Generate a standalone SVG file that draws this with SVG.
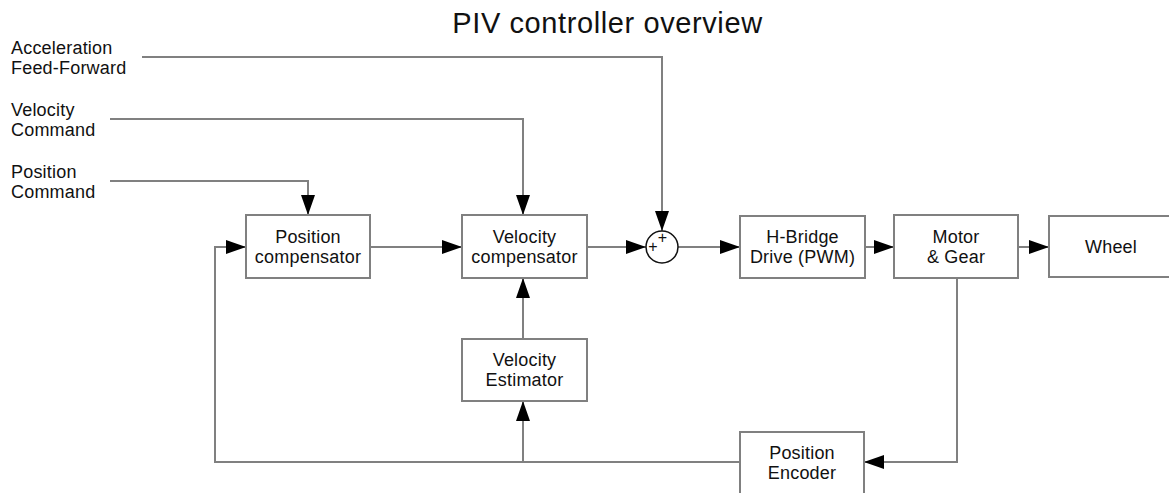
<svg xmlns="http://www.w3.org/2000/svg" width="1169" height="493" viewBox="0 0 1169 493">
<style>
.box{fill:#fff;stroke:#808080;stroke-width:2}
.lbl{font-family:"Liberation Sans",Arial,sans-serif;font-size:18px;fill:#111;letter-spacing:0.2px}
.c{text-anchor:middle}
.ln{fill:none;stroke:#808080;stroke-width:2}
.title{font-family:"Liberation Sans",Arial,sans-serif;font-size:29px;fill:#111;text-anchor:middle;letter-spacing:0.6px}
.plus{font-family:"Liberation Sans",Arial,sans-serif;font-size:16px;fill:#111;text-anchor:middle}
</style>
<defs>
<marker id="ah" markerUnits="userSpaceOnUse" markerWidth="20" markerHeight="14" refX="20" refY="7" orient="auto">
<path d="M0,0 L20,7 L0,14 z" fill="#000"/>
</marker>
</defs>
<rect width="1169" height="493" fill="#fff"/>
<text class="title" x="607.5" y="33">PIV controller overview</text>

<g id="inputs">
<text class="lbl" x="11" y="54">Acceleration</text>
<text class="lbl" x="11" y="74">Feed-Forward</text>
<text class="lbl" x="11" y="116">Velocity</text>
<text class="lbl" x="11" y="136">Command</text>
<text class="lbl" x="11" y="178">Position</text>
<text class="lbl" x="11" y="198">Command</text>
</g>

<g id="connectors">
<path class="ln" d="M142,57 H662 V231" marker-end="url(#ah)"/>
<path class="ln" d="M110,119 H523 V215" marker-end="url(#ah)"/>
<path class="ln" d="M110,181 H308 V215" marker-end="url(#ah)"/>
<path class="ln" d="M370,247 H462" marker-end="url(#ah)"/>
<path class="ln" d="M587,247 H646" marker-end="url(#ah)"/>
<path class="ln" d="M678,247 H740" marker-end="url(#ah)"/>
<path class="ln" d="M865,247 H894" marker-end="url(#ah)"/>
<path class="ln" d="M1018,247 H1049" marker-end="url(#ah)"/>
<path class="ln" d="M957,278 V462 H864" marker-end="url(#ah)"/>
<path class="ln" d="M740,462 H215 V247 H246" marker-end="url(#ah)"/>
<path class="ln" d="M523,462 V401" marker-end="url(#ah)"/>
<path class="ln" d="M523,339 V278" marker-end="url(#ah)"/>
</g>

<g id="position-compensator">
<rect class="box" x="246" y="215" width="124" height="63"/>
<text class="lbl c" x="308" y="243">Position</text>
<text class="lbl c" x="308" y="263">compensator</text>
</g>

<g id="velocity-compensator">
<rect class="box" x="462" y="215" width="125" height="63"/>
<text class="lbl c" x="524.5" y="243">Velocity</text>
<text class="lbl c" x="524.5" y="263">compensator</text>
</g>

<g id="sum">
<circle cx="662" cy="247" r="16" fill="#fff" stroke="#111" stroke-width="1.5"/>
<text class="plus" x="653" y="252">+</text>
<text class="plus" x="662.5" y="243">+</text>
</g>

<g id="h-bridge">
<rect class="box" x="740" y="216" width="125" height="62"/>
<text class="lbl c" x="802.5" y="243">H-Bridge</text>
<text class="lbl c" x="802.5" y="263">Drive (PWM)</text>
</g>

<g id="motor">
<rect class="box" x="894" y="215" width="124" height="63"/>
<text class="lbl c" x="956" y="243">Motor</text>
<text class="lbl c" x="956" y="263">&amp; Gear</text>
</g>

<g id="wheel">
<rect class="box" x="1049" y="216" width="124" height="61"/>
<text class="lbl c" x="1111" y="253">Wheel</text>
</g>

<g id="velocity-estimator">
<rect class="box" x="462" y="339" width="125" height="62"/>
<text class="lbl c" x="524.5" y="366">Velocity</text>
<text class="lbl c" x="524.5" y="386">Estimator</text>
</g>

<g id="position-encoder">
<rect class="box" x="740" y="432" width="124" height="63"/>
<text class="lbl c" x="802" y="459">Position</text>
<text class="lbl c" x="802" y="479">Encoder</text>
</g>
</svg>
